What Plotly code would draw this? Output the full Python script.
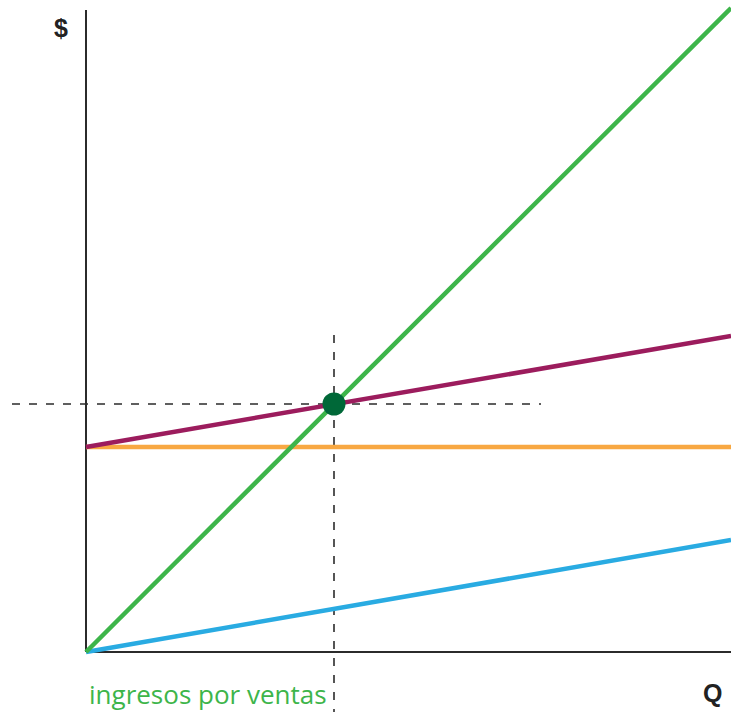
import plotly.graph_objects as go

# Break-even chart: quantity (Q) against money ($)
q = [0, 645]
ingresos = [0, 644]          # sales revenue
costo_variable = [0, 112]    # variable cost
costo_fijo = [205, 205]      # fixed cost
costo_total = [205, 316]     # total cost = fixed + variable
equilibrio_q = [248]
equilibrio_y = [248]

GREEN = "#3db54a"
PURPLE = "#9c1c5d"
ORANGE = "#f8a842"
BLUE = "#29abe2"
DOT = "#006838"
AXIS = "#2b2b2b"

fig = go.Figure()

# dashed guides through the break-even point
fig.add_trace(go.Scatter(x=[-74, 455], y=[equilibrio_y[0]] * 2, mode="lines",
                         line=dict(color=AXIS, width=1.6, dash="8px,9px"), hoverinfo="skip"))
fig.add_trace(go.Scatter(x=[equilibrio_q[0]] * 2, y=[317, -60], mode="lines",
                         line=dict(color=AXIS, width=1.6, dash="8px,9px"), hoverinfo="skip"))

# axes
fig.add_trace(go.Scatter(x=[0, 0], y=[642, 0], mode="lines",
                         line=dict(color=AXIS, width=2), hoverinfo="skip"))
fig.add_trace(go.Scatter(x=[0, 645], y=[0, 0], mode="lines",
                         line=dict(color=AXIS, width=2), hoverinfo="skip"))

fig.add_trace(go.Scatter(x=q, y=costo_fijo, mode="lines", line=dict(color=ORANGE, width=4.5)))
fig.add_trace(go.Scatter(x=q, y=costo_variable, mode="lines", line=dict(color=BLUE, width=4.5)))
fig.add_trace(go.Scatter(x=q, y=costo_total, mode="lines", line=dict(color=PURPLE, width=4.5)))
fig.add_trace(go.Scatter(x=q, y=ingresos, mode="lines", line=dict(color=GREEN, width=4.5)))
fig.add_trace(go.Scatter(x=equilibrio_q, y=equilibrio_y, mode="markers",
                         marker=dict(color=DOT, size=23)))

fig.add_annotation(x=-25, y=624, text="<b>$</b>", showarrow=False,
                   font=dict(family="Liberation Sans, Arial", size=25, color="#222222"))
fig.add_annotation(x=626, y=-41, text="<b>Q</b>", showarrow=False,
                   font=dict(family="Liberation Sans, Arial", size=25, color="#222222"))
fig.add_annotation(x=1, y=-42, text="ingresos por ventas", showarrow=False,
                   xanchor="left", font=dict(family="Open Sans", size=26, color=GREEN))

fig.update_layout(
    width=731, height=712, margin=dict(l=0, r=0, t=0, b=0),
    paper_bgcolor="white", plot_bgcolor="white", showlegend=False,
    xaxis=dict(range=[-86, 645], visible=False, fixedrange=True),
    yaxis=dict(range=[-60, 652], visible=False, fixedrange=True),
)

fig.write_html("out.html")
